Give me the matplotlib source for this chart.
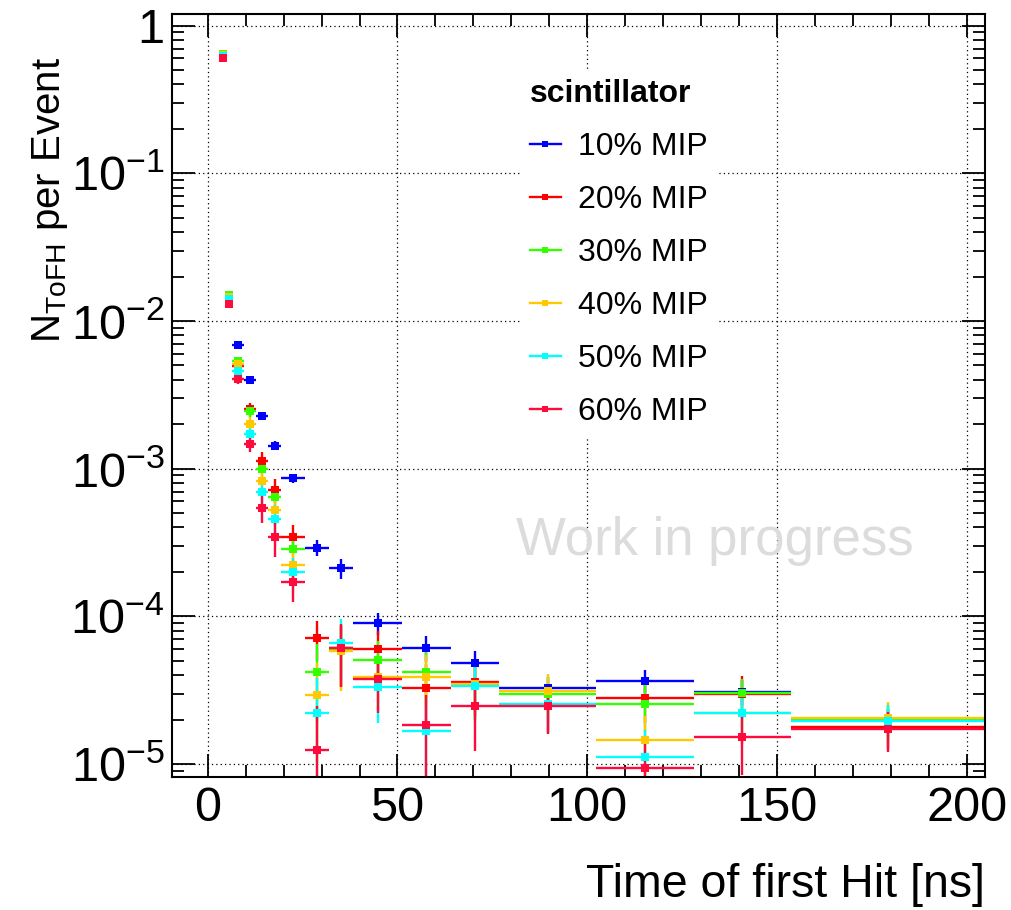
import numpy as np
import matplotlib
matplotlib.use("Agg")
import matplotlib.pyplot as plt
from matplotlib.lines import Line2D
from matplotlib.ticker import FixedLocator, LogLocator, NullFormatter, FuncFormatter

plt.rcParams['font.family'] = ['Liberation Sans', 'DejaVu Sans']
plt.rcParams['mathtext.fontset'] = 'custom'
plt.rcParams['mathtext.rm'] = 'Liberation Sans'
plt.rcParams['mathtext.it'] = 'Liberation Sans:italic'
plt.rcParams['mathtext.bf'] = 'Liberation Sans:bold'

# bin edges of the time-of-first-hit histogram [ns]
edges = [3.2, 4.8, 6.4, 9.6, 12.8, 16.0, 19.2, 25.6, 32.0, 38.4,
         51.2, 64.0, 76.8, 102.4, 128.0, 153.6, 204.8]

labels = ["10% MIP", "20% MIP", "30% MIP", "40% MIP", "50% MIP", "60% MIP"]
colors = ["#0000ff", "#ff0000", "#33ff00", "#ffc800", "#00ffff", "#ff0a3c"]

mip10 = [0.63, 0.0140, 0.0069, 0.00398, 0.00228, 0.00143, 0.00086, 0.000292,
         0.000212, 9.0e-5, 6.14e-5, 4.81e-5, 3.26e-5, 3.67e-5, 3.09e-5, 2.0e-5]
mip10_err = [0.004, 0.0005, 0.0003, 0.0002, 0.00013, 0.0001, 6e-5, 3.6e-5,
             3.2e-5, 1.5e-5, 1.2e-5, 1.05e-5, 6e-6, 6.5e-6, 6e-6, 3.5e-6]

mip20 = [0.62, 0.0135, 0.00497, 0.00254, 0.00113, 0.000718, 0.000347, 7.16e-5,
         6.08e-5, 6.0e-5, 3.29e-5, 3.6e-5, 2.5e-5, 2.81e-5, 3.0e-5, 1.78e-5]
mip20_err = [0.0055, 0.00082, 0.00035, 0.00025, 0.000167, 0.000133, 6.6e-5, 2.2e-5,
             2.7e-5, 1.9e-5, 1.43e-5, 1.49e-5, 8.8e-6, 9.3e-6, 9.6e-6, 5.2e-6]

mip30 = [0.64, 0.0149, 0.00532, 0.00244, 0.00099, 0.00064, 0.000286, 4.22e-5,
         5.9e-5, 5.07e-5, 4.22e-5, 3.45e-5, 2.98e-5, 2.56e-5, 3.01e-5, 1.99e-5]
mip30_err = [0.0056, 0.00086, 0.00036, 0.000246, 0.000157, 0.000126, 6.0e-5, 2.3e-5,
             2.7e-5, 1.77e-5, 1.62e-5, 1.46e-5, 9.6e-6, 8.9e-6, 7.5e-6, 5.5e-6]

mip40 = [0.63, 0.0145, 0.0051, 0.0020, 0.00083, 0.000526, 0.000224, 2.92e-5,
         5.83e-5, 3.87e-5, 3.91e-5, 3.49e-5, 3.14e-5, 1.45e-5, 2.2e-5, 2.06e-5]
mip40_err = [0.0056, 0.00085, 0.00036, 0.000223, 0.000143, 0.000114, 5.3e-5, 1.9e-5,
             2.7e-5, 1.55e-5, 1.56e-5, 1.47e-5, 9.0e-6, 6.7e-6, 8.3e-6, 5.6e-6]

mip50 = [0.62, 0.0140, 0.00462, 0.00173, 0.0007, 0.000459, 0.0002, 2.2e-5,
         6.64e-5, 3.33e-5, 1.66e-5, 3.36e-5, 2.55e-5, 1.11e-5, 2.2e-5, 1.94e-5]
mip50_err = [0.0056, 0.00083, 0.00034, 0.000207, 0.000132, 0.000107, 5.0e-5, 1.65e-5,
             2.9e-5, 1.44e-5, 1.01e-5, 1.44e-5, 8.9e-6, 5.9e-6, 8.3e-6, 5.5e-6]

mip60 = [0.60, 0.0130, 0.00404, 0.00148, 0.000545, 0.000347, 0.000171, 1.24e-5,
         6.08e-5, 3.75e-5, 1.84e-5, 2.45e-5, 2.46e-5, 9.35e-6, 1.53e-5, 1.73e-5]
mip60_err = [0.0055, 0.0008, 0.00032, 0.000192, 0.000116, 9.3e-5, 4.6e-5, 1.24e-5,
             2.75e-5, 1.52e-5, 1.07e-5, 1.23e-5, 8.7e-6, 5.4e-6, 6.9e-6, 5.2e-6]

series = [mip10, mip20, mip30, mip40, mip50, mip60]
errors = [mip10_err, mip20_err, mip30_err, mip40_err, mip50_err, mip60_err]

edges = np.array(edges)
centers = 0.5 * (edges[:-1] + edges[1:])
halfw = 0.5 * np.diff(edges)

fig = plt.figure(figsize=(10.11, 9.10), dpi=100)
ax = fig.add_axes([0.1698, 0.1465, 0.8045, 0.8381])

for vals, errs, col in zip(series, errors, colors):
    ax.errorbar(centers, vals, xerr=halfw, yerr=errs, fmt='s', color=col,
                ms=5.5, mew=0, elinewidth=1.7, capsize=0)

ax.set_yscale('log')
ax.set_xlim(-9.5, 204.8)
ax.set_ylim(8.2e-6, 1.2)

ax.xaxis.set_major_locator(FixedLocator([0, 50, 100, 150, 200]))
ax.xaxis.set_minor_locator(FixedLocator(np.arange(0, 205, 10)))
ax.yaxis.set_major_locator(LogLocator(base=10, numticks=20))
ax.yaxis.set_minor_locator(LogLocator(base=10, subs=np.arange(2, 10), numticks=20))
ax.yaxis.set_minor_formatter(NullFormatter())


def ylab(v, pos):
    e = int(round(np.log10(v)))
    if e == 0:
        return "1"
    return r"$10^{%d}$" % e


ax.yaxis.set_major_formatter(FuncFormatter(ylab))

ax.tick_params(which='both', direction='in', top=True, right=True,
               labelsize=35, width=1.3)
ax.tick_params(which='major', length=16.5)
ax.tick_params(which='minor', length=8.5)
ax.tick_params(axis='x', pad=7)
ax.tick_params(axis='y', pad=5)
for sp in ax.spines.values():
    sp.set_linewidth(1.5)

ax.grid(True, which='major', linestyle=(0, (1, 2.5)), color='black', linewidth=0.9)
ax.set_axisbelow(True)

ax.text(0.668, 0.309, "Work in progress", transform=ax.transAxes,
        fontsize=38, color='#dcdcdc', ha='center', va='center')

handles = [Line2D([0], [0], color=c, lw=1.7, marker='s', ms=4.5, mew=0) for c in colors]
leg = ax.legend(handles, labels, title="scintillator", loc='upper left',
                bbox_to_anchor=(0.429, 0.927), fontsize=23, title_fontsize=23,
                frameon=True, fancybox=False, edgecolor='none', facecolor='white',
                framealpha=1.0, borderpad=0.3, labelspacing=0.72,
                handlelength=0.95, handletextpad=0.55, borderaxespad=0)
leg._legend_box.align = "left"
leg.get_title().set_fontweight('bold')

fig.text(50 / 1011, 1 - 57 / 910, r"N$_{\mathrm{ToFH}}$ per Event", rotation=90,
         ha='center', va='top', fontsize=29)
fig.text(985 / 1011, 3 / 910, "Time of first Hit [ns]", ha='right', va='bottom',
         fontsize=33.5)

fig.savefig("out.png", dpi=100)
